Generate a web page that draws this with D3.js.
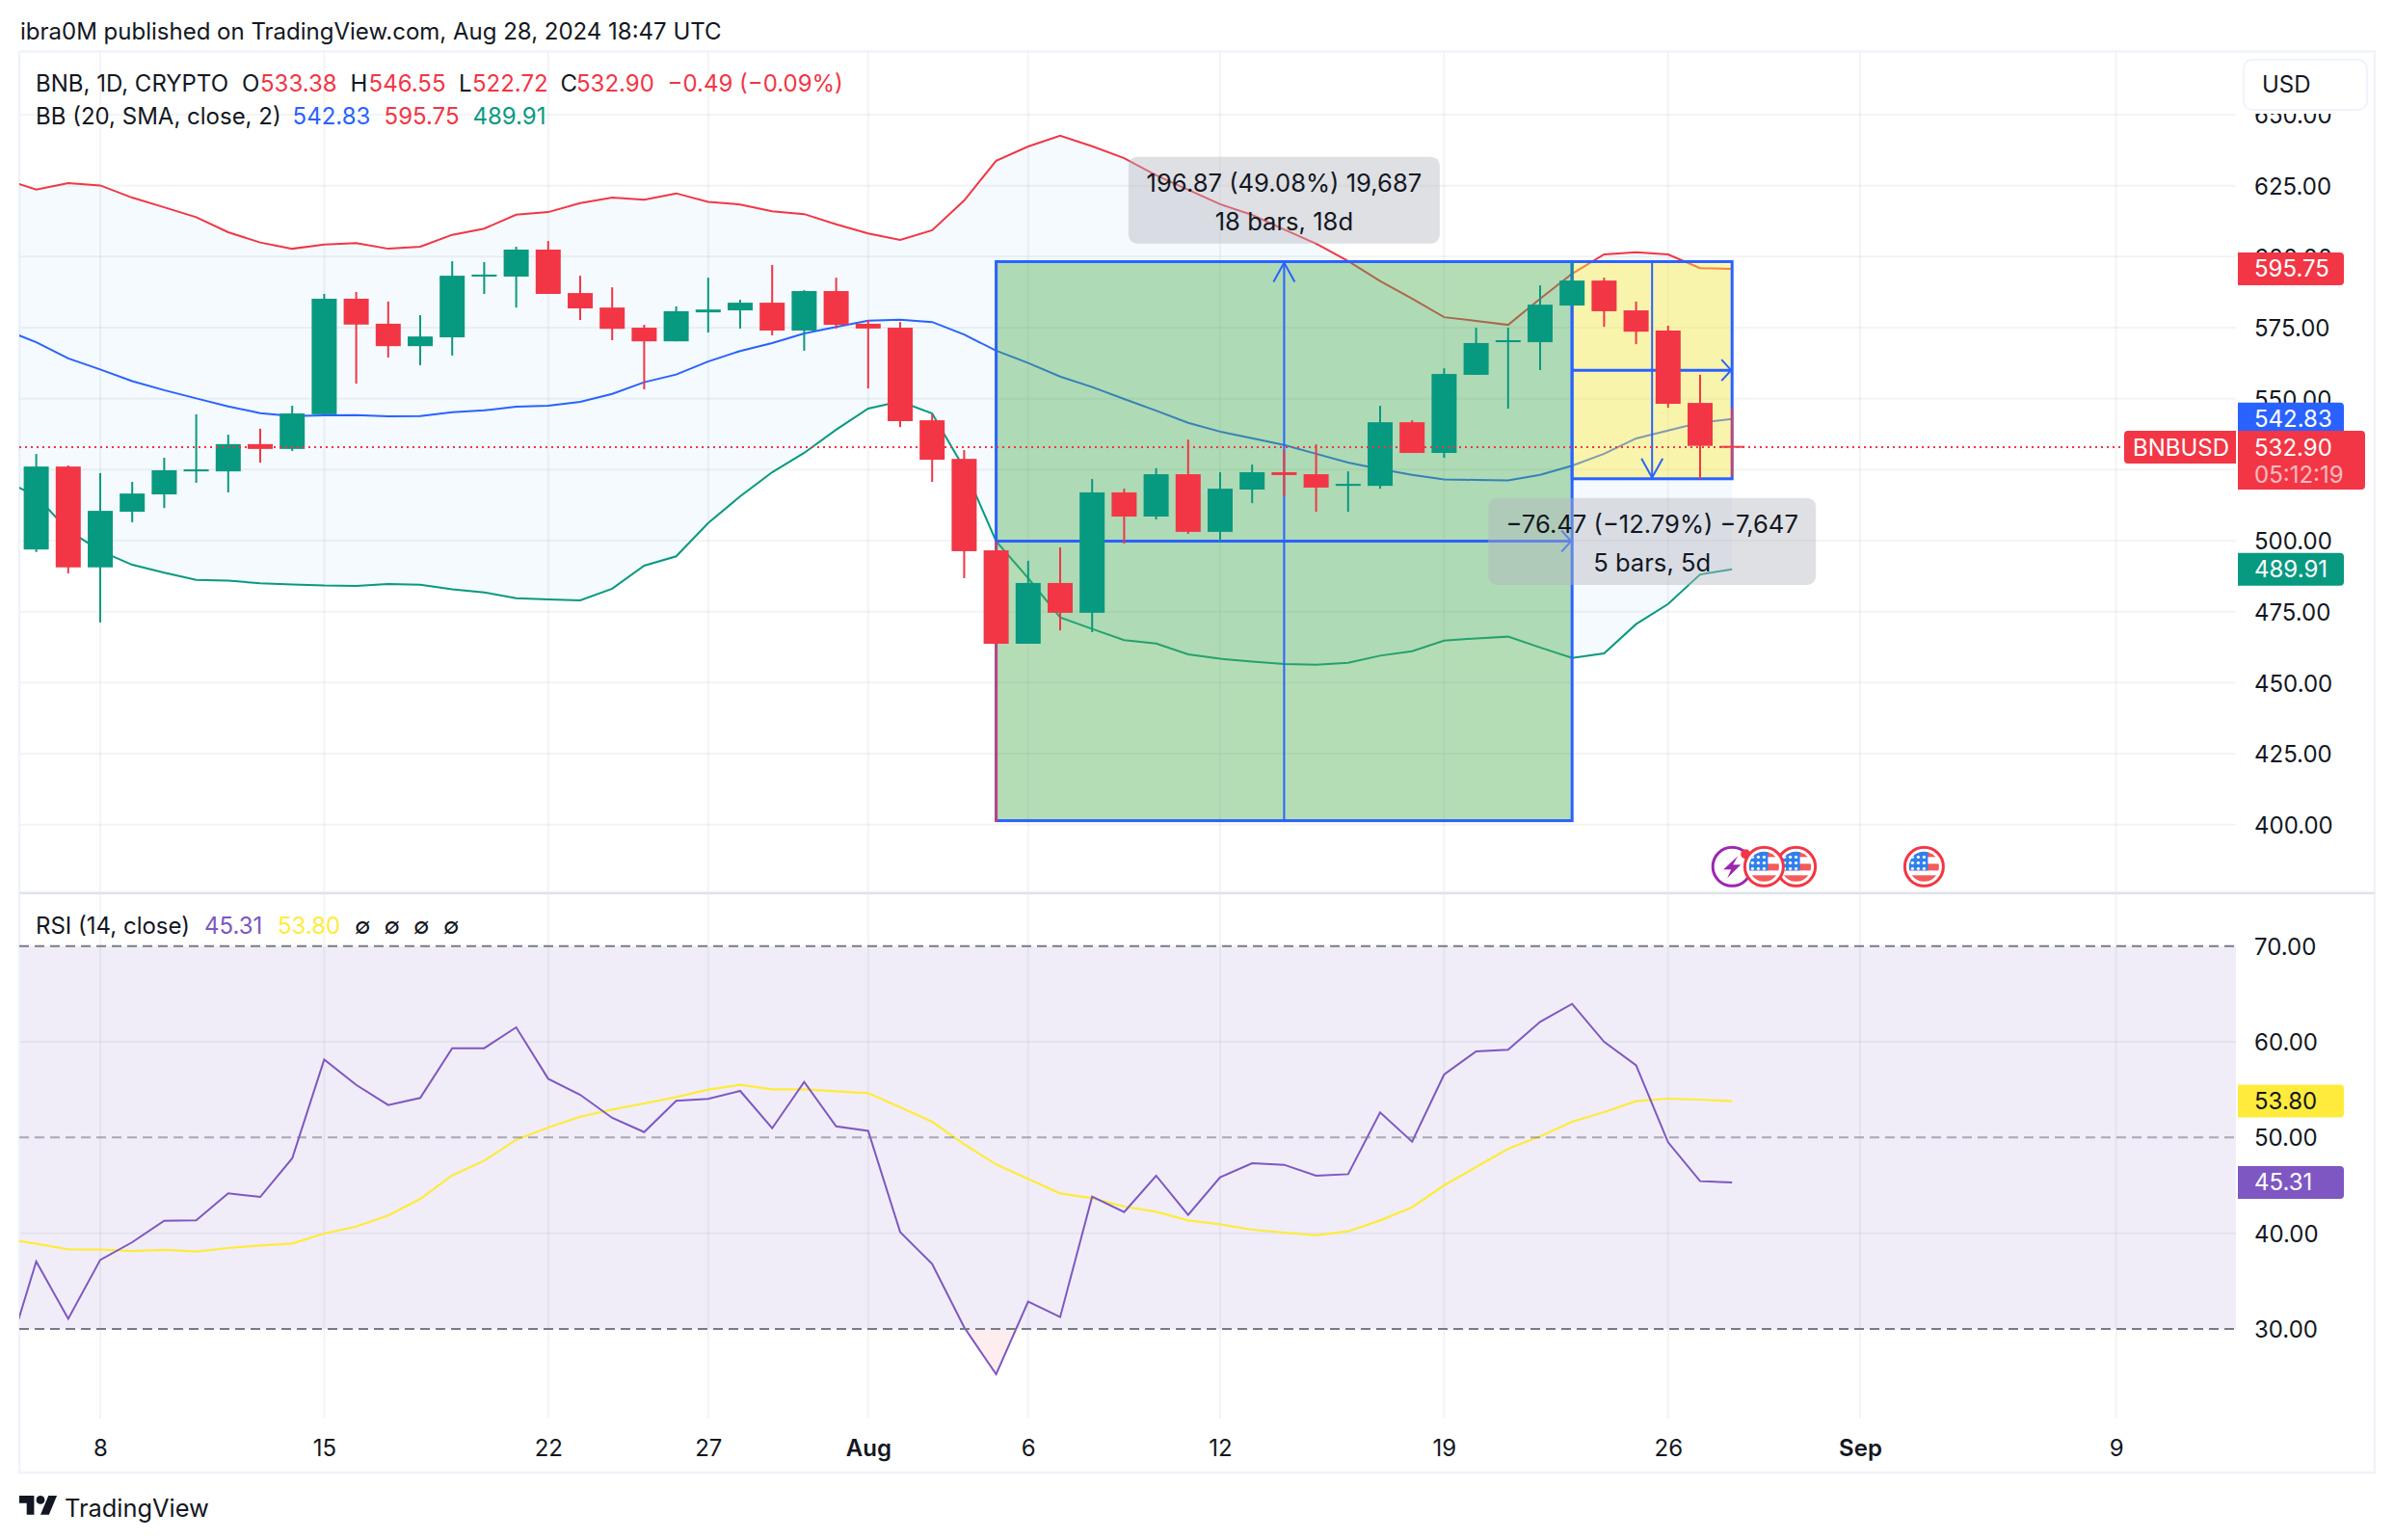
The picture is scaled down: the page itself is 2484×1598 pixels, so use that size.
<!DOCTYPE html>
<html><head><meta charset="utf-8">
<script src="https://cdn.jsdelivr.net/npm/d3@7"></script>
<style>
html,body{margin:0;padding:0;background:#fff;}
svg{display:block;}
text{font-family:Inter,"Noto Sans",sans-serif;font-size:24px;fill:#131722;}
</style></head><body><svg id="c" width="2484" height="1598"></svg>
<script>
// ---- candles (Jul 6 → Aug 28, index = days since Jul 6)
const opens=[496.9,526.1,490.6,510.2,516.3,524.4,524.4,534.0,532.3,544.5,585.2,576.4,568.5,571.6,593.0,593.0,602.5,587.2,582.1,575.0,570.2,580.4,581.1,583.8,574.0,587.9,576.4,575.0,542.4,528.8,496.6,463.7,485.1,474.6,517.0,508.5,523.4,503.1,518.0,524.1,523.4,519.3,519.3,541.7,530.9,558.4,569.9,569.9,582.8,591.6,581.1,574.0,548.5,533.38];
const highs=[530.5,526.5,523.8,520.7,529.2,544.5,537.3,539.4,547.5,586.9,587.6,584.2,579.4,598.4,598.1,603.5,605.5,593.3,589.2,576.0,582.5,592.6,584.8,597.1,588.2,592.6,577.7,577.0,544.5,531.9,499.7,492.9,497.6,521.7,518.3,525.5,535.6,524.1,526.8,531.9,533.9,524.4,547.5,542.4,560.7,575.0,575.0,589.9,598.1,592.6,584.2,575.7,558.4,546.55];
const lows=[496.0,488.5,471.2,506.5,511.5,520.4,517.0,527.5,531.6,544.5,555.3,564.5,561.8,565.2,586.9,582.1,586.9,577.7,570.6,553.3,570.2,573.3,574.7,572.3,566.9,574.7,553.6,540.0,520.7,486.8,400.9,463.7,468.4,467.8,499.0,507.5,502.4,499.7,513.2,515.6,510.2,510.2,518.3,530.9,529.2,558.4,546.5,560.1,582.8,575.3,569.2,546.8,521.7,522.72];
const closes=[526.1,490.6,510.5,516.6,524.8,525.1,534.0,532.3,544.8,585.2,576.1,568.5,571.9,593.3,593.7,602.5,586.9,581.8,574.6,570.2,580.8,581.4,583.8,574.0,587.9,576.0,574.7,542.1,528.5,496.3,463.7,485.1,474.6,517.0,508.5,523.4,503.1,518.3,524.1,523.1,518.7,520.0,541.7,530.9,558.7,569.6,570.6,583.1,591.6,580.8,573.6,548.2,533.39,532.90];
// ---- indicators start one day earlier (Jul 5)
const bbUpper=[627.3,623.6,625.9,625.1,620.8,617.4,613.9,608.6,605.0,602.8,604.3,604.8,602.8,603.5,607.7,609.9,614.8,615.7,618.9,620.8,620.1,622.3,619.3,618.4,616.0,615.0,611.4,608.2,605.9,609.3,619.8,633.8,638.8,642.6,638.9,634.7,628.7,623.6,618.5,614.7,609.6,604.6,598.5,591.4,585.2,578.7,577.4,576.0,585.2,594.0,600.8,601.6,600.8,596.0,595.75];
const bbBasis=[574.3,569.9,564.2,560.3,556.2,553.0,550.1,547.3,544.9,543.9,544.1,544.2,543.8,543.9,545.2,545.9,547.2,547.5,548.9,551.7,555.8,558.5,563.1,566.8,569.6,573.0,575.3,577.5,577.8,577.0,572.6,566.9,562.6,557.8,554.1,549.9,545.8,541.5,538.4,536.1,533.7,530.6,527.5,525.2,523.2,521.6,521.4,521.2,523.2,526.4,530.6,536.0,538.8,541.6,542.83];
const bbLower=[521.4,515.6,503.7,496.4,491.5,488.7,486.2,485.9,485.0,484.6,484.2,484.1,484.7,484.5,482.9,481.8,479.7,479.3,479.0,483.1,491.2,494.5,506.2,515.6,524.1,530.9,539.1,546.5,549.0,544.8,525.5,499.8,486.8,473.0,468.9,465.0,463.8,460.0,458.4,457.4,456.6,456.3,457.0,459.5,461.1,464.8,465.6,466.2,462.4,458.7,460.3,470.6,477.7,488.1,489.91];
const rsi=[26.1,37.05,31.07,37.21,39.06,41.31,41.34,44.16,43.79,47.82,58.15,55.5,53.39,54.13,59.33,59.33,61.51,56.14,54.46,52.05,50.57,53.83,54.03,54.87,50.97,55.81,51.17,50.7,40.13,36.78,30.17,25.27,32.85,31.24,43.83,42.21,46.01,41.91,45.84,47.32,47.15,46.01,46.17,52.62,49.56,56.58,58.99,59.16,62.08,63.96,60.0,57.55,49.5,45.44,45.31];
const rsiMa=[39.46,38.89,38.32,38.29,38.15,38.26,38.09,38.46,38.72,38.93,39.97,40.7,41.85,43.59,46.04,47.58,49.77,51.04,52.18,52.92,53.56,54.23,55.0,55.5,55.03,55.03,54.83,54.63,53.15,51.64,49.3,47.18,45.67,44.16,43.66,42.79,42.25,41.34,40.94,40.37,40.07,39.77,40.2,41.34,42.72,45.0,46.91,48.83,50.1,51.64,52.65,53.79,54.06,53.96,53.80];
// ---- ticks
const priceTicks=[650,625,600,575,550,525,500,475,450,425,400];
const priceTickLabels=['650.00','625.00','600.00','575.00','550.00','','500.00','475.00','450.00','425.00','400.00'];
const rsiTicks=[70,60,50,40,30];
const dayTicks=[2,9,16,21,26,31,37,44,51,57,65];
const dayLabels=['8','15','22','27','Aug','6','12','19','26','Sep','9'];
const boldLabels=['Aug','Sep'];
const eventDays=[53,55,54,59];
// ---- measure tools
const longTool={from:30,to:48,low:401.4,high:598.27,text:['196.87 (49.08%) 19,687','18 bars, 18d']};
const shortTool={from:48,to:53,low:521.8,high:598.27,text:['\u221276.47 (\u221212.79%) \u22127,647','5 bars, 5d']};
const lastClose=532.90;

const UP='#089981',DOWN='#f23645',BLUE='#2962ff',PURPLE='#7e57c2',YEL='#ffeb3b';
const L=20,R=2320,FR=2464,T=53.5,SEP=926.7,B=1472,FB=1528;
const x=d3.scaleLinear().domain([0,65]).range([37.6,2195.6]);
const y=d3.scaleLinear().domain([400,625]).range([855.7,192.7]);
const ry=d3.scaleLinear().domain([30,70]).range([1379,981.7]);
const svg=d3.select('#c');
const defs=svg.append('defs');
defs.append('clipPath').attr('id','pane').append('rect').attr('x',L).attr('y',T).attr('width',R-L).attr('height',SEP-T);
defs.append('clipPath').attr('id','rpane').append('rect').attr('x',L).attr('y',SEP).attr('width',R-L).attr('height',B-SEP);
defs.append('clipPath').attr('id','below30').append('rect').attr('x',L).attr('y',ry(30)).attr('width',R-L).attr('height',B-ry(30));
svg.append('rect').attr('width',2484).attr('height',1598).attr('fill','#fff');

// RSI band
svg.append('rect').attr('x',L).attr('y',ry(70)).attr('width',R-L).attr('height',ry(30)-ry(70)).attr('fill','#f0edf8');

// grid
const GRID='rgba(42,46,57,0.055)';
const gridG=svg.append('g');
gridG.selectAll('line.v').data(dayTicks).join('line').attr('x1',d=>x(d)).attr('x2',d=>x(d)).attr('y1',T).attr('y2',B).attr('stroke',GRID).attr('stroke-width',2);
gridG.selectAll('line.h').data(priceTicks).join('line').attr('class','h').attr('x1',L).attr('x2',R).attr('y1',d=>y(d)).attr('y2',d=>y(d)).attr('stroke',GRID).attr('stroke-width',2);
gridG.selectAll('line.r').data([60,40]).join('line').attr('class','r').attr('x1',L).attr('x2',R).attr('y1',d=>ry(d)).attr('y2',d=>ry(d)).attr('stroke',GRID).attr('stroke-width',2);

// frame
const fr=svg.append('g').attr('stroke','#f0f3fa').attr('stroke-width',2.5).attr('fill','none');
fr.append('rect').attr('x',L).attr('y',T).attr('width',FR-L).attr('height',FB-T);
svg.append('line').attr('x1',L).attr('x2',FR).attr('y1',SEP).attr('y2',SEP).attr('stroke','#e0e3eb').attr('stroke-width',2.5);

// Bollinger
const pane=svg.append('g').attr('clip-path','url(#pane)');
const bi=i=>i-1;
pane.append('path').datum(bbUpper).attr('fill','rgba(33,150,243,0.05)')
  .attr('d',d3.area().x((d,i)=>x(bi(i))).y0((d,i)=>y(bbLower[i])).y1(d=>y(d)));
const ln=d3.line().x((d,i)=>x(bi(i))).y(d=>y(d));
[[bbUpper,DOWN],[bbBasis,BLUE],[bbLower,UP]].forEach(([a,c])=>pane.append('path').datum(a).attr('fill','none').attr('stroke',c).attr('stroke-width',2).attr('d',ln));

// measure tools
function tool(t,fill,dir){
  const g=pane.append('g');
  const x0=x(t.from),x1=x(t.to),yt=y(t.high),yb=y(t.low),xm=(x0+x1)/2,ym=(yt+yb)/2;
  g.append('rect').attr('x',x0).attr('y',yt).attr('width',x1-x0).attr('height',yb-yt).attr('fill',fill).attr('stroke',BLUE).attr('stroke-width',3);
  g.append('line').attr('x1',x0).attr('x2',x1).attr('y1',ym).attr('y2',ym).attr('stroke',BLUE).attr('stroke-width',3);
  g.append('line').attr('x1',xm).attr('x2',xm).attr('y1',yt).attr('y2',yb).attr('stroke',BLUE).attr('stroke-width',2);
  g.append('polyline').attr('points',`${x1-11},${ym-11} ${x1-1},${ym} ${x1-11},${ym+11}`).attr('fill','none').attr('stroke',BLUE).attr('stroke-width',2);
  const s=dir==='up'?1:-1, tip=dir==='up'?yt+1:yb-1;
  g.append('polyline').attr('points',`${xm-11},${tip+s*20} ${xm},${tip} ${xm+11},${tip+s*20}`).attr('fill','none').attr('stroke',BLUE).attr('stroke-width',2);
}
tool(longTool,'rgba(76,175,80,0.42)','up');
tool(shortTool,'rgba(255,235,59,0.42)','down');

// last price dotted line
svg.append('line').attr('x1',L).attr('x2',2204).attr('y1',y(lastClose)).attr('y2',y(lastClose)).attr('stroke',DOWN).attr('stroke-width',2).attr('stroke-dasharray','2 4');

// candles
const cw=26;
const candle=pane.selectAll('g.c').data(d3.range(opens.length)).join('g');
candle.append('rect').attr('x',i=>x(i)-1).attr('width',2).attr('y',i=>y(highs[i])).attr('height',i=>y(lows[i])-y(highs[i])).attr('fill',i=>closes[i]>=opens[i]?UP:DOWN);
candle.append('rect').attr('x',i=>x(i)-cw/2).attr('width',cw).attr('y',i=>y(Math.max(opens[i],closes[i]))).attr('height',i=>Math.max(2,Math.abs(y(opens[i])-y(closes[i])))).attr('fill',i=>closes[i]>=opens[i]?UP:DOWN);

// measure labels
function box(xc,y0,y1,w,lines,ty){
  svg.append('rect').attr('x',xc-w/2).attr('y',y0).attr('width',w).attr('height',y1-y0).attr('rx',9).attr('fill','rgba(178,182,190,0.42)');
  lines.forEach((s,i)=>svg.append('text').attr('x',xc).attr('y',ty[i]).attr('text-anchor','middle').attr('dominant-baseline','central').style('font-size','25.6px').text(s));
}
box(x(39),162.7,252.7,323,longTool.text,[189,229]);
box((x(48)+x(53))/2,516.7,607,340,shortTool.text,[543,583]);

// RSI
const rp=svg.append('g').attr('clip-path','url(#rpane)');
const rl=d3.line().x((d,i)=>x(bi(i))).y(d=>ry(d));
rp.append('g').attr('clip-path','url(#below30)').append('path').datum(rsi).attr('fill','rgba(242,54,69,0.09)')
  .attr('d',d3.area().x((d,i)=>x(bi(i))).y0(ry(30)).y1(d=>ry(d)));
[[70,1],[50,0.6],[30,1]].forEach(([v,o])=>svg.append('line').attr('x1',L).attr('x2',R).attr('y1',ry(v)).attr('y2',ry(v)).attr('stroke','#787b86').attr('stroke-opacity',o).attr('stroke-width',2).attr('stroke-dasharray','10 6'));
rp.append('path').datum(rsiMa).attr('fill','none').attr('stroke',YEL).attr('stroke-width',2.2).attr('d',rl);
rp.append('path').datum(rsi).attr('fill','none').attr('stroke',PURPLE).attr('stroke-width',2).attr('d',rl);

// axes
function styleAxis(g){g.select('.domain').remove();g.selectAll('line').remove();g.selectAll('text').attr('fill','#131722').attr('dy','0.36em').style('font-family','Inter').style('font-size','24px');}
svg.append('g').attr('transform',`translate(${2339},0)`)
  .call(d3.axisRight(y).tickValues(priceTicks).tickFormat((d,i)=>priceTickLabels[i]).tickSize(0).tickPadding(0)).call(styleAxis);
svg.append('g').attr('transform',`translate(${2339},0)`)
  .call(d3.axisRight(ry).tickValues(rsiTicks).tickFormat(d=>d.toFixed(2)).tickSize(0).tickPadding(0)).call(styleAxis);
svg.append('g').attr('transform',`translate(0,1502)`)
  .call(d3.axisBottom(x).tickValues(dayTicks).tickFormat((d,i)=>dayLabels[i]).tickSize(0).tickPadding(0)).call(styleAxis)
  .selectAll('text').style('font-weight',(d,i)=>boldLabels.includes(dayLabels[i])?600:400);

// USD button
svg.append('rect').attr('x',2322).attr('y',56).attr('width',140).attr('height',62).attr('fill','#fff');
svg.append('rect').attr('x',2328).attr('y',62).attr('width',128).attr('height',52).attr('rx',9).attr('fill','#fff').attr('stroke','#f0f3fa').attr('stroke-width',2);
svg.append('text').attr('x',2347).attr('y',87).attr('dominant-baseline','central').text('USD');

// price tags
function tag(x0,x1,yc,h,fill,side){
  const y0=yc-h/2,y1=yc+h/2,r=4;
  const d=side==='left'
    ?`M${x1},${y0}H${x0+r}Q${x0},${y0} ${x0},${y0+r}V${y1-r}Q${x0},${y1} ${x0+r},${y1}H${x1}Z`
    :`M${x0},${y0}H${x1-r}Q${x1},${y0} ${x1},${y0+r}V${y1-r}Q${x1},${y1} ${x1-r},${y1}H${x0}Z`;
  svg.append('path').attr('d',d).attr('fill',fill);
}
function tagText(tx,yc,s,c,op){svg.append('text').attr('x',tx).attr('y',yc).attr('dominant-baseline','central').style('fill',c).attr('opacity',op||1).text(s);}
const pt=v=>y(v);
const bbLast=[[bbUpper.at(-1),DOWN],[bbBasis.at(-1),BLUE],[bbLower.at(-1),UP]];
bbLast.forEach(([v,c])=>{tag(2322,2432,pt(v),34,c,'right');tagText(2339,pt(v),v.toFixed(2),'#fff');});
tag(2204,2320,pt(lastClose),34,DOWN,'left');tagText(2213,pt(lastClose),'BNBUSD','#fff');
svg.append('path').attr('d',(()=>{const a=pt(lastClose)-17,b=a+61;return `M2322,${a}H2450Q2454,${a} 2454,${a+4}V${b-4}Q2454,${b} 2450,${b}H2322Z`;})()).attr('fill',DOWN);
tagText(2339,pt(lastClose),lastClose.toFixed(2),'#fff');
tagText(2339,pt(lastClose)+28,'05:12:19','#fff',0.65);
tag(2322,2432,ry(rsiMa.at(-1)),34,YEL,'right');tagText(2339,ry(rsiMa.at(-1)),rsiMa.at(-1).toFixed(2),'#131722');
tag(2322,2432,ry(rsi.at(-1)),34,PURPLE,'right');tagText(2339,ry(rsi.at(-1)),rsi.at(-1).toFixed(2),'#fff');

// event badges
const EY=899.3;
function flag(cx){
  const cid='cf'+Math.round(cx);
  defs.append('clipPath').attr('id',cid).append('circle').attr('cx',cx).attr('cy',EY).attr('r',15.5);
  const g=svg.append('g');
  g.append('circle').attr('cx',cx).attr('cy',EY).attr('r',20).attr('fill','#fff').attr('stroke',DOWN).attr('stroke-width',3);
  const f=g.append('g').attr('clip-path',`url(#${cid})`);
  [[-16,-10],[-3,4],[9,17]].forEach(([a,b])=>f.append('rect').attr('x',cx-17).attr('width',34).attr('y',EY+a).attr('height',b-a).attr('fill','#f45b5b'));
  f.append('rect').attr('x',cx-17).attr('y',EY-16).attr('width',21).attr('height',20).attr('fill','#2f80ed');
  [-10,-4,2].forEach(dy=>[-12,-6,0].forEach(dx=>f.append('circle').attr('cx',cx+dx).attr('cy',EY+dy).attr('r',1.6).attr('fill','#fff')));
}
const px=x(eventDays[0]);
svg.append('circle').attr('cx',px).attr('cy',EY).attr('r',20).attr('fill','#fff').attr('stroke','#9c27b0').attr('stroke-width',3);
svg.append('path').attr('transform',`translate(${px},${EY})`).attr('d','M6,-11 L-9,3 L-1,3 L-5,12 L9,-2 L1,-2 Z').attr('fill','#9c27b0');
svg.append('circle').attr('cx',px+14).attr('cy',EY-13).attr('r',5).attr('fill',DOWN);
flag(x(eventDays[3]));
flag(x(eventDays[1]));
flag(x(eventDays[2]));

// header + legends
function seg(xp,yc,s,c){svg.append('text').attr('x',xp).attr('y',yc).attr('dominant-baseline','central').style('fill',c||'#131722').text(s);}
seg(21,32,'ibra0M published on TradingView.com, Aug 28, 2024 18:47 UTC');
seg(37,86,'BNB, 1D, CRYPTO');
seg(251,86,'O');seg(270,86,opens.at(-1).toFixed(2),DOWN);
seg(363.5,86,'H');seg(382.6,86,highs.at(-1).toFixed(2),DOWN);
seg(476,86,'L');seg(490,86,lows.at(-1).toFixed(2),DOWN);
seg(581.6,86,'C');seg(598,86,closes.at(-1).toFixed(2),DOWN);
seg(692.6,86,'\u22120.49 (\u22120.09%)',DOWN);
seg(37,120,'BB (20, SMA, close, 2)');
seg(303.6,120,bbBasis.at(-1).toFixed(2),BLUE);seg(398.6,120,bbUpper.at(-1).toFixed(2),DOWN);seg(490.4,120,bbLower.at(-1).toFixed(2),UP);
seg(37,960,'RSI (14, close)');
seg(212,960,rsi.at(-1).toFixed(2),PURPLE);seg(288,960,rsiMa.at(-1).toFixed(2),YEL);
[368,398.6,429,460].forEach(v=>seg(v,960,'\u2205'));

// logo
const lg=svg.append('g').attr('transform','translate(20,1547.6) scale(1.1)').attr('fill','#131722');
lg.append('path').attr('d','M14 22H7V11H0V4h14v18zM28 22h-8l7.5-18h8L28 22z');
lg.append('circle').attr('cx',20).attr('cy',8).attr('r',4);
svg.append('text').attr('x',67).attr('y',1564).attr('dominant-baseline','central').style('font-size','25.4px').text('TradingView');
</script></body></html>
